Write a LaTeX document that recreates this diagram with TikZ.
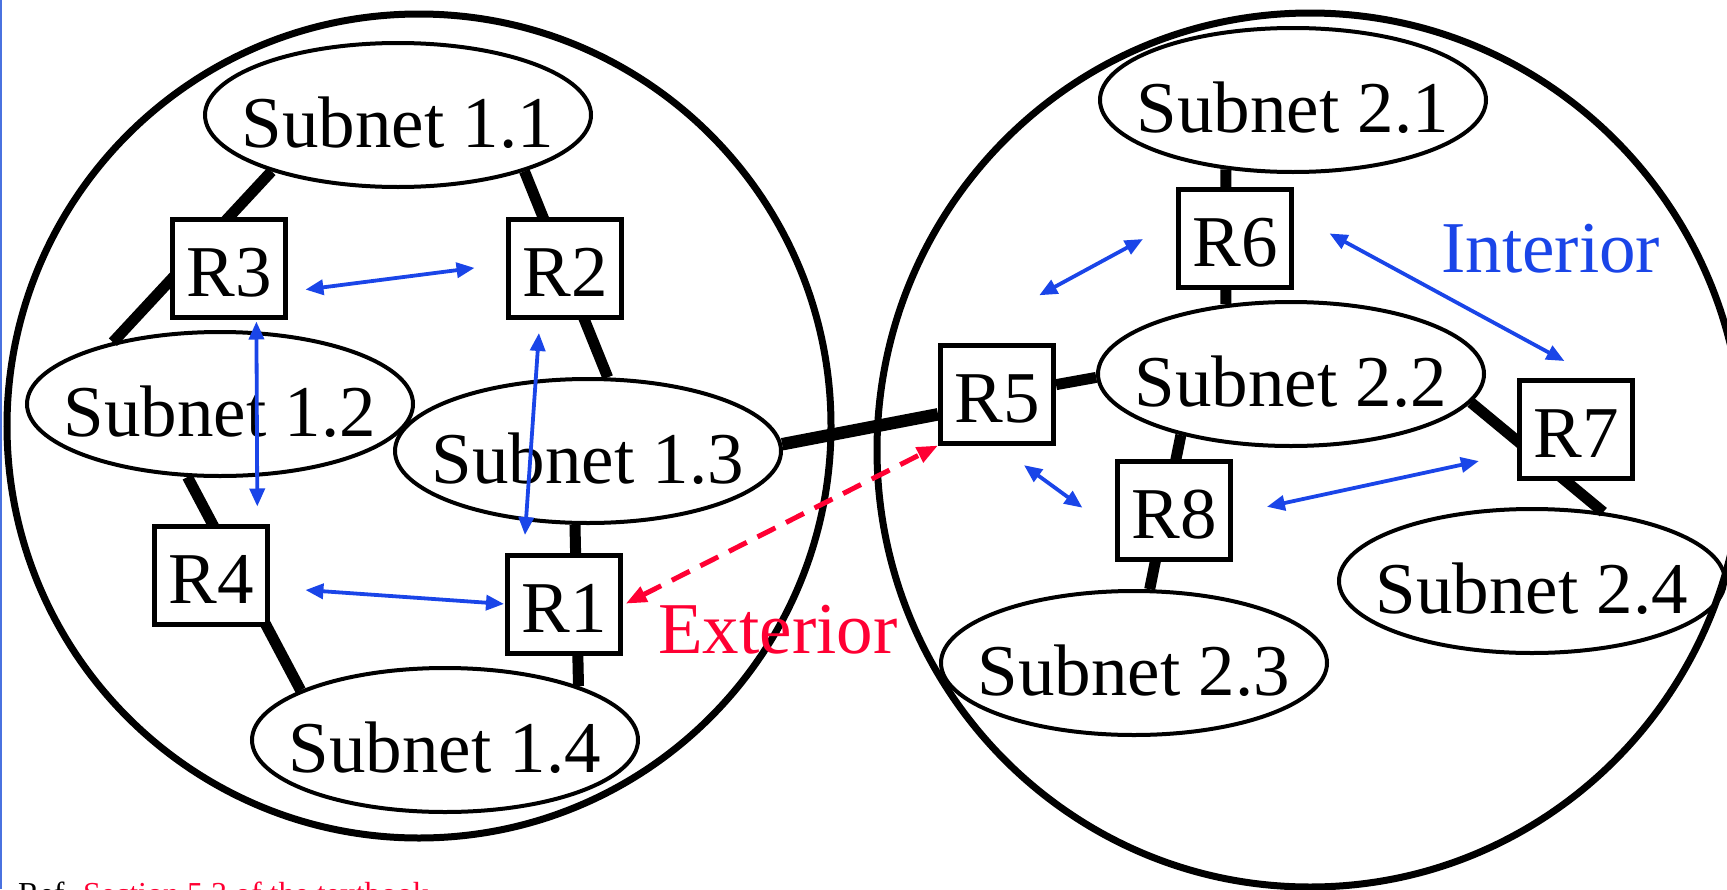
\documentclass[tikz,border=0pt]{standalone}
\usepackage{fontspec}
\setmainfont{Liberation Serif}
\usetikzlibrary{arrows.meta,shapes.geometric,backgrounds}
\definecolor{iblue}{HTML}{1A45E8}
\definecolor{ered}{HTML}{FF0033}
\definecolor{edgeblue}{HTML}{4A72E0}
\begin{document}
\begin{tikzpicture}[x=1pt,y=-1pt,
  bigarea/.style={draw, line width=7pt, inner sep=0pt},
  subnet/.style={ellipse, draw, line width=4pt, minimum width=386pt, minimum height=144pt,
    inner sep=0pt, font=\fontsize{73}{80}\selectfont, text height=64pt, text depth=0pt},
  router/.style={rectangle, draw, line width=5pt, fill=white, minimum width=113pt,
    minimum height=98pt, inner sep=0pt, font=\fontsize{73}{80}\selectfont,
    text height=57pt, text depth=0pt},
  link/.style={line width=11pt},
  iarrow/.style={iblue, line width=3.8pt,
    {Triangle[length=18pt,width=15pt]}-{Triangle[length=18pt,width=15pt]}},
  earrow/.style={ered, line width=5pt, dash pattern=on 20pt off 12pt,
    {Triangle[length=21pt,width=16pt]}-{Triangle[length=21pt,width=16pt]}},
  biglabel/.style={inner sep=0pt, anchor=base west, font=\fontsize{73}{80}\selectfont}
]
\useasboundingbox (0,0) rectangle (1727,889);
\fill[edgeblue] (0,0) rectangle (1.5,889);

% areas
\node[bigarea, circle, minimum size=824pt] (as1) at (419,426) {};
\node[bigarea, ellipse, minimum width=866pt, minimum height=874pt] (as2) at (1310,450) {};

% subnets
\node[subnet] (s11) at (398,115) {\makebox[0pt]{Subnet 1.1}};
\node[subnet] (s12) at (220,404) {\makebox[0pt]{Subnet 1.2}};
\node[subnet] (s13) at (588,451) {\makebox[0pt]{Subnet 1.3}};
\node[subnet] (s14) at (445,740) {\makebox[0pt]{Subnet 1.4}};
\node[subnet] (s21) at (1293,100) {\makebox[0pt]{Subnet 2.1}};
\node[subnet] (s22) at (1291,374) {\makebox[0pt]{Subnet 2.2}};
\node[subnet] (s23) at (1134,663) {\makebox[0pt]{Subnet 2.3}};
\node[subnet] (s24) at (1532,581) {\makebox[0pt]{Subnet 2.4}};

% routers
\node[router] (r3) at (229,268) {R3};
\node[router] (r2) at (565,268) {R2};
\node[router] (r4) at (211,575) {R4};
\node[router] (r1) at (564,604) {R1};
\node[router] (r6) at (1235,238) {R6};
\node[router] (r5) at (997,394) {R5};
\node[router] (r7) at (1576,429) {R7};
\node[router] (r8) at (1174,510) {R8};

% physical links
\begin{scope}[on background layer]
\draw[link] (s11.204) -- (s12.150);
\draw[link] (s11.336) -- (s13.75);
\draw[link] (s12.246) -- (s14.161);
\draw[link] (s13.260) -- (s14.22);
\draw[link, line width=12.5pt] (s13.2) -- (r5.199);
\draw[link] (r5.9) -- (s22.181);
\draw[link] (s21.226) -- (s22.133);
\draw[link] (s22.209) -- (s23.78);
\draw[link] (s22.351) -- (s24.44);
\end{scope}

% interior routing
\draw[iarrow, shorten <=17.6pt, shorten >=31.7pt] (r3.338) -- (r2.176);
\draw[iarrow, shorten <=2pt, shorten >=17pt] (r3.298) -- (r4.48);
\draw[iarrow, shorten <=13.5pt, shorten >=17.5pt] (r2.244) -- (r1.128);
\draw[iarrow, shorten <=35.5pt, shorten >=1pt] (r4.348) -- (r1.180);
\draw[iarrow, shorten <=37.6pt, shorten >=99pt] (r6.164) -- (r5.131);
\draw[iarrow, shorten <=40.4pt, shorten >=34.5pt] (r6.22) -- (r7.70);
\draw[iarrow, shorten <=33.4pt, shorten >=40.3pt] (r5.270) -- (r8.200);
\draw[iarrow, shorten <=34.7pt, shorten >=39pt] (r8.356) -- (r7.202);

% exterior routing
\draw[earrow, shorten <=3pt] (r1.359) -- (r5.south west);

% labels
\node[biglabel, text=iblue] (interior) at (1441,272) {Interior};
\node[biglabel, text=ered] (exterior) at (658,653) {Exterior};
\node[inner sep=0pt, anchor=base west, font=\fontsize{32}{38}\selectfont] (ref) at (18,904)
  {Ref. \textcolor{ered}{Section 5.3 of the textbook}};
\end{tikzpicture}
\end{document}
